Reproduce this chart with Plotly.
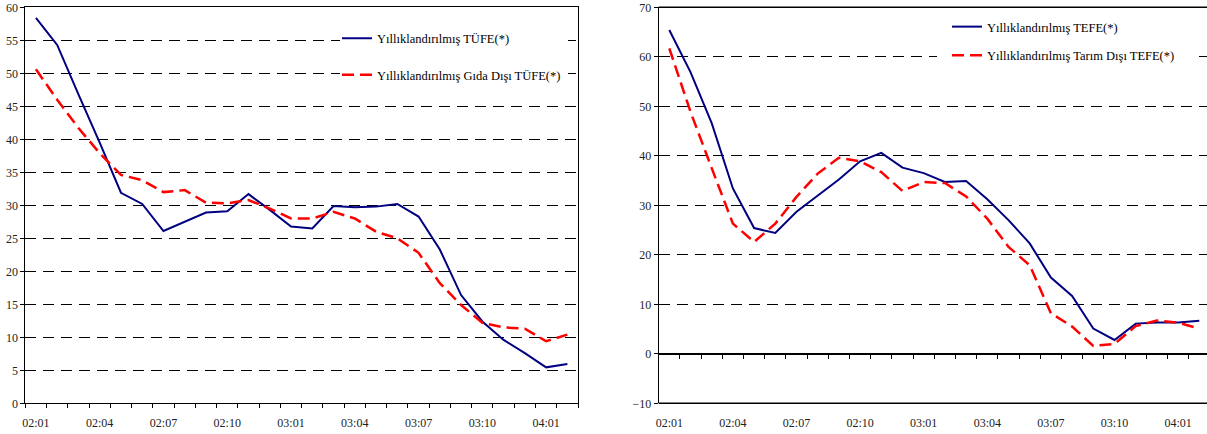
import plotly.graph_objects as go

# ---------------- data ----------------
months = ["02:01", "02:02", "02:03", "02:04", "02:05", "02:06", "02:07", "02:08",
          "02:09", "02:10", "02:11", "02:12", "03:01", "03:02", "03:03", "03:04",
          "03:05", "03:06", "03:07", "03:08", "03:09", "03:10", "03:11", "03:12",
          "04:01", "04:02"]

tufe = [58.4, 54.3, 46.8, 39.5, 31.9, 30.2, 26.1, 27.5, 28.9, 29.1, 31.7, 29.3,
        26.8, 26.5, 29.9, 29.7, 29.8, 30.2, 28.3, 23.3, 16.4, 12.4, 9.6, 7.6,
        5.45, 5.95]
gida_disi_tufe = [50.6, 46.0, 41.7, 37.9, 34.6, 33.8, 32.0, 32.3, 30.4, 30.3, 30.8, 29.5,
                  28.0, 28.0, 29.0, 28.0, 26.0, 25.0, 22.8, 18.2, 14.9, 12.2, 11.5, 11.3,
                  9.4, 10.4]

tefe = [65.4, 56.9, 46.6, 33.4, 25.4, 24.4, 28.7, 32.0, 35.2, 38.9, 40.6, 37.6,
        36.5, 34.7, 34.9, 31.2, 27.0, 22.3, 15.4, 11.7, 5.1, 2.8, 6.1, 6.3,
        6.3, 6.7]
tarim_disi_tefe = [61.7, 48.9, 37.5, 26.3, 22.6, 26.3, 31.7, 36.4, 39.6, 38.9, 36.7, 32.9,
                   34.7, 34.5, 31.8, 27.3, 21.6, 17.9, 8.2, 5.5, 1.6, 2.0, 5.6, 6.7,
                   6.3, 5.1]

left_names = ["Yıllıklandırılmış TÜFE(*)", "Yıllıklandırılmış Gıda Dışı TÜFE(*)"]
right_names = ["Yıllıklandırılmış TEFE(*)", "Yıllıklandırılmış Tarım Dışı TEFE(*)"]

left_range = [0, 60]
left_dtick = 5
right_range = [-10, 70]
right_dtick = 10

# ---------------- layout helpers ----------------
W, H = 1207, 434
FONT = "Liberation Serif"
BLUE = "#000080"
RED = "#FF0000"
RED_DASH = "12px,6px"


def fx(p):
    return p / W


def fy(p):
    return 1 - p / H


x = list(range(len(months)))
label_vals = x[::3]
label_text = months[::3]
boundaries = [i - 0.5 for i in range(len(months) + 1)]

fig = go.Figure()

fig.add_trace(go.Scatter(x=x, y=tufe, mode="lines", name=left_names[0],
                         line=dict(color=BLUE, width=2),
                         xaxis="x", yaxis="y", legend="legend"))
fig.add_trace(go.Scatter(x=x, y=gida_disi_tufe, mode="lines", name=left_names[1],
                         line=dict(color=RED, width=2.5, dash=RED_DASH),
                         xaxis="x", yaxis="y", legend="legend2"))
fig.add_trace(go.Scatter(x=x, y=tefe, mode="lines", name=right_names[0],
                         line=dict(color=BLUE, width=2),
                         xaxis="x2", yaxis="y2", legend="legend3"))
fig.add_trace(go.Scatter(x=x, y=tarim_disi_tefe, mode="lines", name=right_names[1],
                         line=dict(color=RED, width=2.5, dash=RED_DASH),
                         xaxis="x2", yaxis="y2", legend="legend4"))

tickfont_x = dict(family=FONT, size=12, color="#222")
tickfont_y = dict(family=FONT, size=12, color="#222")
grid = dict(showgrid=True, gridcolor="black", gridwidth=1, griddash="11px,7px")

ydom = [fy(403.3), fy(7.3)]
cat_w_right = 21.2
right_x_end = -0.5 + (W - 658.7) / cat_w_right

minor_ticks = dict(tickmode="array", tickvals=boundaries, ticks="outside",
                   ticklen=4, tickwidth=1, tickcolor="black", showgrid=False)

# paper position of the value 0 on the right chart's y axis
zero_pos = ydom[0] + (0 - right_range[0]) / (right_range[1] - right_range[0]) * (ydom[1] - ydom[0])
zero_px = (1 - zero_pos) * H
bottom_px = 403.3

leg_common = dict(xanchor="left", yanchor="middle", bgcolor="rgba(255,255,255,0)",
                  borderwidth=0, itemwidth=30,
                  font=dict(family=FONT, size=12.5, color="black"))

fig.update_layout(
    width=W, height=H,
    margin=dict(l=0, r=0, t=0, b=0, autoexpand=False),
    paper_bgcolor="white", plot_bgcolor="white",
    showlegend=True,
    xaxis=dict(domain=[fx(25.3), fx(578)], range=[-0.5, len(months) - 0.5],
               anchor="y", showline=True, linecolor="black", linewidth=1, mirror=True,
               showgrid=False, zeroline=False, automargin=False,
               tickmode="array", tickvals=label_vals, ticktext=label_text, ticks="",
               ticklabelstandoff=8, tickfont=tickfont_x, minor=minor_ticks),
    yaxis=dict(domain=ydom, range=left_range, anchor="x", dtick=left_dtick,
               showline=True, linecolor="black", linewidth=1, mirror=True,
               ticks="outside", ticklen=4, tickcolor="black", zeroline=False,
               automargin=False, tickfont=tickfont_y, **grid),
    # right chart category axis sits on the zero line, labels at the bottom
    xaxis2=dict(domain=[fx(658.7), 1.0], range=[-0.5, right_x_end],
                anchor="free", position=zero_pos,
                showline=True, linecolor="black", linewidth=1.5,
                showgrid=False, zeroline=False, automargin=False,
                tickmode="array", tickvals=label_vals, ticktext=label_text, ticks="",
                ticklabelstandoff=int(round(8 + (bottom_px - zero_px))), tickfont=tickfont_x,
                minor=minor_ticks),
    yaxis2=dict(domain=ydom, range=right_range, anchor="x2", dtick=right_dtick,
                showline=True, linecolor="black", linewidth=1, mirror=False,
                ticks="outside", ticklen=4, tickcolor="black", zeroline=False,
                automargin=False, tickfont=tickfont_y, **grid),
    legend=dict(x=fx(337), y=fy(38.5), **leg_common),
    legend2=dict(x=fx(337), y=fy(75), **leg_common),
    legend3=dict(x=fx(947), y=fy(27), **leg_common),
    legend4=dict(x=fx(947), y=fy(55.5), **leg_common),
    shapes=[
        dict(type="rect", xref="paper", yref="paper", x0=fx(340), x1=fx(568),
             y0=fy(90), y1=fy(22), fillcolor="white", line=dict(width=0), layer="above"),
        dict(type="rect", xref="paper", yref="paper", x0=fx(937), x1=fx(1198),
             y0=fy(68), y1=fy(14), fillcolor="white", line=dict(width=0), layer="above"),
        # right chart frame: top and bottom borders
        dict(type="line", xref="x2 domain", yref="y2 domain", x0=0, x1=1, y0=0, y1=0,
             line=dict(color="black", width=1.5), layer="above"),
        dict(type="line", xref="x2 domain", yref="y2 domain", x0=0, x1=1, y0=1, y1=1,
             line=dict(color="black", width=1.5), layer="above"),
    ],
)

fig.write_html("out.html")
